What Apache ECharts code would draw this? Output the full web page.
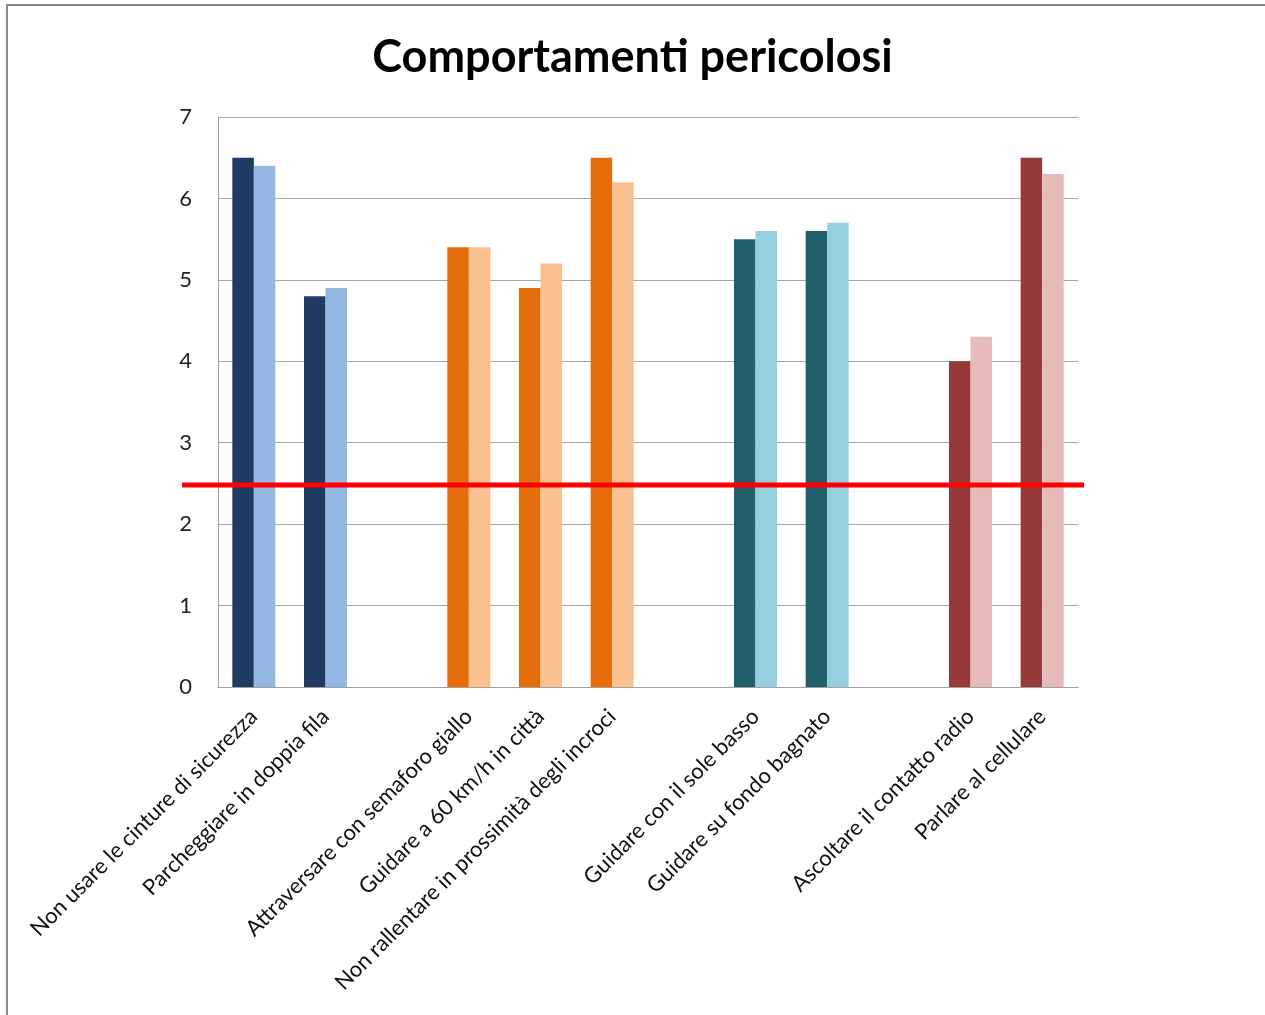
<!DOCTYPE html>
<html>
<head>
<meta charset="utf-8">
<script src="https://cdn.jsdelivr.net/npm/echarts@6/dist/echarts.min.js"></script>
<style>
  html, body { margin: 0; padding: 0; background: #fff; overflow: hidden; }
  #chart { position: absolute; left: 0; top: 0; width: 1265px; height: 1015px; }
  #frame { position: absolute; left: 6px; top: 4px; width: 1400px; height: 1200px;
           border: 2px solid #8c8c8c; pointer-events: none; box-sizing: border-box; }
</style>
</head>
<body>
<div id="chart"></div>
<div id="frame"></div>
<script>
const titleText = 'Comportamenti pericolosi';
const categories = [
  'Non usare le cinture di sicurezza',
  'Parcheggiare in doppia fila',
  '',
  'Attraversare con semaforo giallo',
  'Guidare a 60 km/h in città',
  'Non rallentare in prossimità degli incroci',
  '',
  'Guidare con il sole basso',
  'Guidare su fondo bagnato',
  '',
  'Ascoltare il contatto radio',
  'Parlare al cellulare'
];
const darkValues  = [6.5, 4.8, null, 5.4, 4.9, 6.5, null, 5.5, 5.6, null, 4.0, 6.5];
const lightValues = [6.4, 4.9, null, 5.4, 5.2, 6.2, null, 5.6, 5.7, null, 4.3, 6.3];
const darkColors  = ['#1F3B61', '#1F3B61', null, '#E46C0A', '#E46C0A', '#E46C0A', null, '#215F6D', '#215F6D', null, '#963A39', '#963A39'];
const lightColors = ['#95B8E3', '#95B8E3', null, '#FAC090', '#FAC090', '#FAC090', null, '#95CFDF', '#95CFDF', null, '#E8BBBB', '#E8BBBB'];
const yTicks = [0, 1, 2, 3, 4, 5, 6, 7];
const thresholdValue = 2.48;
const thresholdLine = [[0, thresholdValue], [1, thresholdValue]];

const chart = echarts.init(document.getElementById('chart'), null, { renderer: 'canvas' });
const fontFam = 'Lato, "Open Sans", sans-serif';

chart.setOption({
  animation: false,
  backgroundColor: '#ffffff',
  title: {
    text: titleText,
    left: 'center',
    top: 30,
    textStyle: { fontFamily: fontFam, fontWeight: 'bold', fontSize: 45, color: '#000' }
  },
  grid: [
    { left: 218, right: 187, top: 117, bottom: 328, containLabel: false },
    { left: 182, right: 181, top: 117, bottom: 328, containLabel: false }
  ],
  xAxis: [
    {
      type: 'category',
      gridIndex: 0,
      data: categories,
      axisLine: { show: true, lineStyle: { color: '#a0a0a0', width: 1 } },
      axisTick: { show: false },
      axisLabel: {
        interval: 0,
        rotate: 45,
        margin: 26,
        fontFamily: fontFam,
        fontSize: 22,
        color: '#111'
      },
      splitLine: { show: false }
    },
    { type: 'value', gridIndex: 1, min: 0, max: 1, show: false }
  ],
  yAxis: [
    {
      type: 'value',
      gridIndex: 0,
      min: yTicks[0],
      max: yTicks[yTicks.length - 1],
      interval: 1,
      axisLine: { show: true, lineStyle: { color: '#a0a0a0', width: 1 } },
      axisTick: { show: false },
      axisLabel: { margin: 26, fontFamily: fontFam, fontSize: 22, color: '#222' },
      splitLine: { show: true, lineStyle: { color: '#a6a6a6', width: 1 } }
    },
    { type: 'value', gridIndex: 1, min: 0, max: 7, show: false }
  ],
  series: [
    {
      type: 'bar',
      xAxisIndex: 0, yAxisIndex: 0,
      data: darkValues,
      barGap: '0%',
      barCategoryGap: '40%',
      itemStyle: { color: p => darkColors[p.dataIndex] }
    },
    {
      type: 'bar',
      xAxisIndex: 0, yAxisIndex: 0,
      data: lightValues,
      barGap: '0%',
      barCategoryGap: '40%',
      itemStyle: { color: p => lightColors[p.dataIndex] }
    },
    {
      type: 'line',
      xAxisIndex: 1, yAxisIndex: 1,
      data: thresholdLine,
      symbol: 'none',
      z: 10,
      lineStyle: { color: '#ff0000', width: 5 }
    }
  ]
});
</script>
</body>
</html>
